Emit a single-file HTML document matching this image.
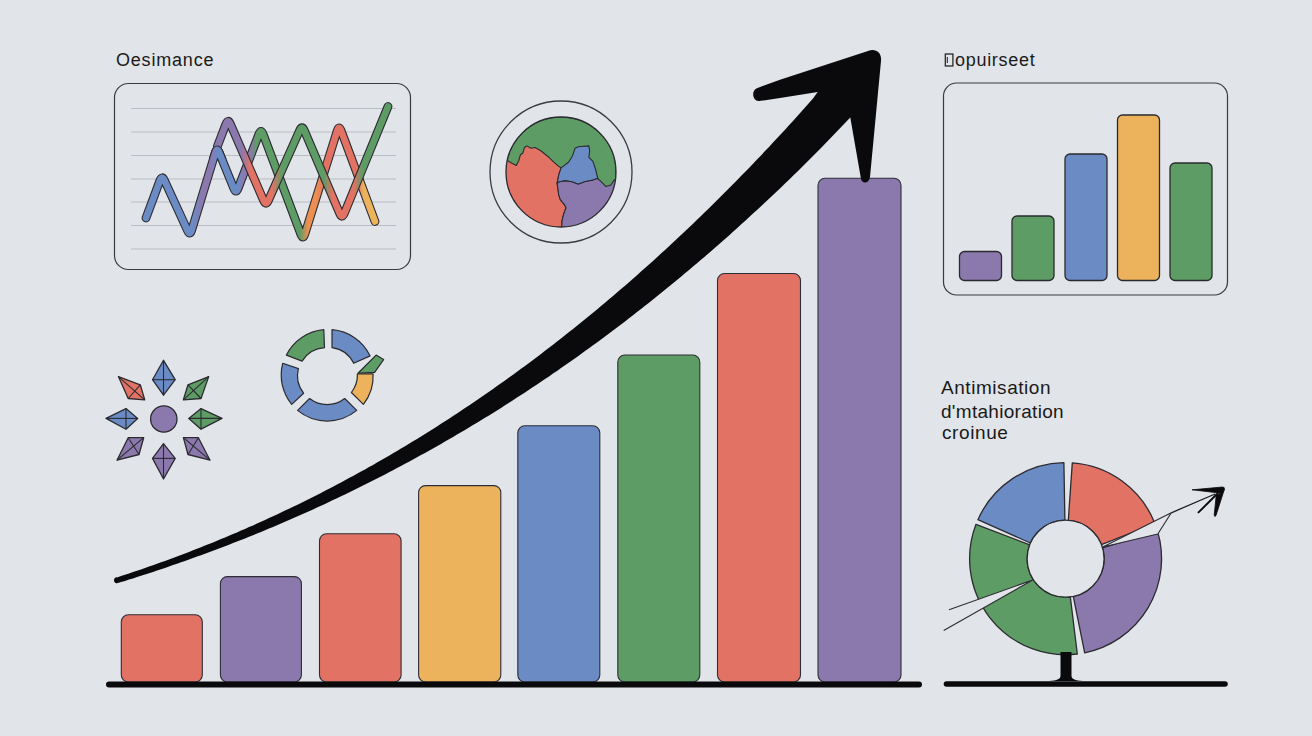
<!DOCTYPE html>
<html><head><meta charset="utf-8">
<style>
html,body{margin:0;padding:0;width:1312px;height:736px;overflow:hidden;background:#e1e4e8;}
svg{display:block;position:absolute;left:0;top:0;}
text{font-family:"Liberation Sans",sans-serif;fill:#1a1a1a;}
</style></head>
<body>
<svg width="1312" height="736" viewBox="0 0 1312 736">
<rect x="0" y="0" width="1312" height="736" fill="#e1e4e8"/>


<!-- ===== line chart panel ===== -->
<text x="116" y="65.5" font-size="18" letter-spacing="0.8">Oesimance</text>
<rect x="114.5" y="83.5" width="296" height="186" rx="14" fill="none" stroke="#3a3a40" stroke-width="1.2"/>
<g stroke="#b9bdc3" stroke-width="1.1">
<line x1="131" y1="108.5" x2="396" y2="108.5"/>
<line x1="131" y1="132" x2="396" y2="132"/>
<line x1="131" y1="155.5" x2="396" y2="155.5"/>
<line x1="131" y1="179" x2="396" y2="179"/>
<line x1="131" y1="202" x2="396" y2="202"/>
<line x1="131" y1="225.5" x2="396" y2="225.5"/>
<line x1="131" y1="249" x2="396" y2="249"/>
</g>
<defs><linearGradient id="gB" gradientUnits="userSpaceOnUse" x1="146" y1="0" x2="380" y2="0"><stop offset="0.0000" stop-color="#6b8bc5"/><stop offset="0.2009" stop-color="#6b8bc5"/><stop offset="0.2393" stop-color="#8b78ad"/><stop offset="0.2735" stop-color="#8b78ad"/><stop offset="0.3077" stop-color="#6b8bc5"/><stop offset="0.3932" stop-color="#6b8bc5"/><stop offset="0.4188" stop-color="#8b78ad"/><stop offset="0.4444" stop-color="#8b78ad"/><stop offset="0.4744" stop-color="#5e9c66"/><stop offset="0.6581" stop-color="#5e9c66"/><stop offset="0.6923" stop-color="#ec8f52"/><stop offset="0.7265" stop-color="#ec8f52"/><stop offset="0.7692" stop-color="#e27264"/><stop offset="0.9017" stop-color="#e27264"/><stop offset="0.9316" stop-color="#ecb35c"/><stop offset="1.0000" stop-color="#ecb35c"/></linearGradient><linearGradient id="gA" gradientUnits="userSpaceOnUse" x1="215" y1="0" x2="390" y2="0"><stop offset="0.0000" stop-color="#8b78ad"/><stop offset="0.1543" stop-color="#8b78ad"/><stop offset="0.2000" stop-color="#e27264"/><stop offset="0.3257" stop-color="#e27264"/><stop offset="0.3829" stop-color="#5e9c66"/><stop offset="0.6229" stop-color="#5e9c66"/><stop offset="0.6686" stop-color="#e27264"/><stop offset="0.7943" stop-color="#e27264"/><stop offset="0.8400" stop-color="#5e9c66"/><stop offset="1.0000" stop-color="#5e9c66"/></linearGradient></defs>
<path d="M146.0,218.0 L159.9,180.6 Q162.0,175.0 164.5,180.5 L187.5,230.5 Q190.0,236.0 191.7,230.3 L215.3,152.7 Q217.0,147.0 219.2,152.6 L233.8,188.4 Q236.0,194.0 238.1,188.4 L258.9,134.1 Q261.0,128.5 263.1,134.1 L300.9,234.4 Q303.0,240.0 304.8,234.3 L337.2,130.7 Q339.0,125.0 341.1,130.6 L375.0,221.5" fill="none" stroke="#2b2b30" stroke-width="8.8" stroke-linejoin="round" stroke-linecap="round"/>
<path d="M146.0,218.0 L159.9,180.6 Q162.0,175.0 164.5,180.5 L187.5,230.5 Q190.0,236.0 191.7,230.3 L215.3,152.7 Q217.0,147.0 219.2,152.6 L233.8,188.4 Q236.0,194.0 238.1,188.4 L258.9,134.1 Q261.0,128.5 263.1,134.1 L300.9,234.4 Q303.0,240.0 304.8,234.3 L337.2,130.7 Q339.0,125.0 341.1,130.6 L375.0,221.5" fill="none" stroke="url(#gB)" stroke-width="6.6" stroke-linejoin="round" stroke-linecap="round"/>
<path d="M217.5,146.0 L225.9,124.1 Q228.0,118.5 230.4,124.0 L263.6,200.5 Q266.0,206.0 268.4,200.5 L299.6,130.5 Q302.0,125.0 304.3,130.5 L339.7,213.5 Q342.0,219.0 344.3,213.4 L388.0,106.5" fill="none" stroke="#2b2b30" stroke-width="8.8" stroke-linejoin="round" stroke-linecap="round"/>
<path d="M217.5,146.0 L225.9,124.1 Q228.0,118.5 230.4,124.0 L263.6,200.5 Q266.0,206.0 268.4,200.5 L299.6,130.5 Q302.0,125.0 304.3,130.5 L339.7,213.5 Q342.0,219.0 344.3,213.4 L388.0,106.5" fill="none" stroke="url(#gA)" stroke-width="6.6" stroke-linejoin="round" stroke-linecap="round"/>
<clipPath id="pk2"><rect x="206" y="139" width="22" height="20"/></clipPath>
<g clip-path="url(#pk2)"><path d="M146.0,218.0 L159.9,180.6 Q162.0,175.0 164.5,180.5 L187.5,230.5 Q190.0,236.0 191.7,230.3 L215.3,152.7 Q217.0,147.0 219.2,152.6 L233.8,188.4 Q236.0,194.0 238.1,188.4 L258.9,134.1 Q261.0,128.5 263.1,134.1 L300.9,234.4 Q303.0,240.0 304.8,234.3 L337.2,130.7 Q339.0,125.0 341.1,130.6 L375.0,221.5" fill="none" stroke="#2b2b30" stroke-width="8.8" stroke-linejoin="round" stroke-linecap="round"/><path d="M146.0,218.0 L159.9,180.6 Q162.0,175.0 164.5,180.5 L187.5,230.5 Q190.0,236.0 191.7,230.3 L215.3,152.7 Q217.0,147.0 219.2,152.6 L233.8,188.4 Q236.0,194.0 238.1,188.4 L258.9,134.1 Q261.0,128.5 263.1,134.1 L300.9,234.4 Q303.0,240.0 304.8,234.3 L337.2,130.7 Q339.0,125.0 341.1,130.6 L375.0,221.5" fill="none" stroke="url(#gB)" stroke-width="6.6" stroke-linejoin="round" stroke-linecap="round"/></g>

<!-- ===== globe ===== -->
<circle cx="561" cy="172" r="71" fill="none" stroke="#3c3c40" stroke-width="1.3"/>
<defs><clipPath id="gclip"><circle cx="561" cy="172" r="55"/></clipPath></defs>
<g clip-path="url(#gclip)" stroke="#2b2b30" stroke-width="1.1" stroke-linejoin="round">
<circle cx="561" cy="172" r="55" fill="#5e9c66"/>
<polygon fill="#e27264" points="480.0,160.0 507.3,160.5 511.4,163.0 516.3,165.4 518.8,160.5 520.4,154.8 522.8,153.2 524.5,147.5 526.9,145.9 531.0,148.3 535.1,147.5 540.8,150.8 548.9,157.3 553.8,162.2 558.7,166.3 561.1,167.9 558.7,175.2 557.1,183.4 557.9,188.3 558.7,194.8 560.3,199.7 564.4,204.6 566.0,207.8 563.6,214.4 562.0,220.9 561.6,230.7 480.0,240.0"/>
<polygon fill="#6b8bc5" points="561.1,167.9 568.5,162.2 572.6,155.7 575.0,148.3 578.3,146.7 588.9,145.9 589.7,150.8 588.9,157.3 592.9,161.4 595.4,168.7 597.8,178.5 592.9,180.1 584.8,181.7 578.3,184.2 571.7,181.7 565.2,180.9 559.5,181.7 557.1,183.4 558.7,175.2 561.1,167.9"/>
<polygon fill="#8b78ad" points="557.1,183.4 559.5,181.7 565.2,180.9 571.7,181.7 578.3,184.2 584.8,181.7 592.9,180.1 597.8,178.5 597.8,178.5 601.1,181.7 606.0,186.6 610.9,185.0 614.1,180.1 619.0,178.5 640.0,175.0 640.0,240.0 560.0,240.0 561.6,230.7 562.0,220.9 563.6,214.4 566.0,207.8 564.4,204.6 560.3,199.7 558.7,194.8 557.9,188.3 557.1,183.4"/>
</g>
<circle cx="561" cy="172" r="55" fill="none" stroke="#2b2b30" stroke-width="1.3"/>

<!-- ===== right bar panel ===== -->
<rect x="945.3" y="54" width="7.6" height="12" fill="none" stroke="#1a1a1a" stroke-width="1.2"/><line x1="947.3" y1="57" x2="947.3" y2="63" stroke="#1a1a1a" stroke-width="1"/><text x="955" y="65.5" font-size="18" letter-spacing="0.7">opuirseet</text>
<rect x="943.5" y="83" width="284" height="212" rx="13" fill="none" stroke="#3a3a40" stroke-width="1.2"/>
<g stroke="#2a2a2e" stroke-width="1.3">
<rect x="959.5" y="251.5" width="42" height="29" rx="5" fill="#8b78ad"/>
<rect x="1012" y="216" width="42" height="64.5" rx="5" fill="#5e9c66"/>
<rect x="1065" y="154" width="42" height="126.5" rx="5" fill="#6b8bc5"/>
<rect x="1117.5" y="115" width="42" height="165.5" rx="5" fill="#ecb35c"/>
<rect x="1170" y="163" width="42" height="117.5" rx="5" fill="#5e9c66"/>
</g>

<!-- ===== star of diamonds ===== -->
<polygon points="163.5,360.3 175.2,379.7 163.5,395.2 152.5,379.7" fill="#6b8bc5" stroke="#2b2b30" stroke-width="1.3" stroke-linejoin="round"/><line x1="163.5" y1="360.3" x2="163.5" y2="395.2" stroke="#2b2b30" stroke-width="1.1"/><line x1="175.2" y1="379.7" x2="152.5" y2="379.7" stroke="#2b2b30" stroke-width="1.1"/>
<polygon points="106.0,418.4 126.0,408.6 137.7,418.4 126.0,429.2" fill="#6b8bc5" stroke="#2b2b30" stroke-width="1.3" stroke-linejoin="round"/><line x1="106.0" y1="418.4" x2="137.7" y2="418.4" stroke="#2b2b30" stroke-width="1.1"/><line x1="126.0" y1="408.6" x2="126.0" y2="429.2" stroke="#2b2b30" stroke-width="1.1"/>
<polygon points="188.8,418.4 201.0,408.6 222.0,418.4 201.0,429.2" fill="#5e9c66" stroke="#2b2b30" stroke-width="1.3" stroke-linejoin="round"/><line x1="188.8" y1="418.4" x2="222.0" y2="418.4" stroke="#2b2b30" stroke-width="1.1"/><line x1="201.0" y1="408.6" x2="201.0" y2="429.2" stroke="#2b2b30" stroke-width="1.1"/>
<polygon points="163.5,443.7 175.2,458.4 163.5,479.0 152.5,458.4" fill="#8b78ad" stroke="#2b2b30" stroke-width="1.3" stroke-linejoin="round"/><line x1="163.5" y1="443.7" x2="163.5" y2="479.0" stroke="#2b2b30" stroke-width="1.1"/><line x1="175.2" y1="458.4" x2="152.5" y2="458.4" stroke="#2b2b30" stroke-width="1.1"/>
<polygon points="118.4,376.6 140.3,384.8 144.7,399.8 128.2,398.5" fill="#e27264" stroke="#2b2b30" stroke-width="1.3" stroke-linejoin="round"/><line x1="118.4" y1="376.6" x2="144.7" y2="399.8" stroke="#2b2b30" stroke-width="1.1"/><line x1="140.3" y1="384.8" x2="128.2" y2="398.5" stroke="#2b2b30" stroke-width="1.1"/>
<polygon points="208.7,376.6 201.0,398.5 183.4,399.8 188.0,384.8" fill="#5e9c66" stroke="#2b2b30" stroke-width="1.3" stroke-linejoin="round"/><line x1="208.7" y1="376.6" x2="183.4" y2="399.8" stroke="#2b2b30" stroke-width="1.1"/><line x1="201.0" y1="398.5" x2="188.0" y2="384.8" stroke="#2b2b30" stroke-width="1.1"/>
<polygon points="117.0,460.2 128.2,437.7 143.7,437.7 139.0,454.5" fill="#8b78ad" stroke="#2b2b30" stroke-width="1.3" stroke-linejoin="round"/><line x1="117.0" y1="460.2" x2="143.7" y2="437.7" stroke="#2b2b30" stroke-width="1.1"/><line x1="128.2" y1="437.7" x2="139.0" y2="454.5" stroke="#2b2b30" stroke-width="1.1"/>
<polygon points="210.0,460.2 188.0,454.5 183.4,437.7 198.4,437.7" fill="#8b78ad" stroke="#2b2b30" stroke-width="1.3" stroke-linejoin="round"/><line x1="210.0" y1="460.2" x2="183.4" y2="437.7" stroke="#2b2b30" stroke-width="1.1"/><line x1="188.0" y1="454.5" x2="198.4" y2="437.7" stroke="#2b2b30" stroke-width="1.1"/>
<circle cx="163.8" cy="419" r="13.2" fill="#8b78ad" stroke="#2b2b30" stroke-width="1.3"/>

<!-- ===== donut ===== -->
<path d="M286.4,355.1 A46.4,46.4 0 0 1 323.8,329.7 L324.5,347.6 A28.5,28.5 0 0 0 302.1,361.1 Z" fill="#5e9c66" stroke="#2b2b30" stroke-width="1.2" stroke-linejoin="round"/>
<path d="M332.0,329.7 A46.4,46.4 0 0 1 370.1,355.9 L353.7,363.3 A28.5,28.5 0 0 0 332.0,347.6 Z" fill="#6b8bc5" stroke="#2b2b30" stroke-width="1.2" stroke-linejoin="round"/>
<path d="M373.1,373.8 A46.4,46.4 0 0 1 363.4,404.4 L351.4,392.5 A28.5,28.5 0 0 0 357.4,373.8 Z" fill="#ecb35c" stroke="#2b2b30" stroke-width="1.2" stroke-linejoin="round"/>
<path d="M356.7,410.4 A46.4,46.4 0 0 1 297.6,410.4 L309.6,398.5 A28.5,28.5 0 0 0 344.7,398.5 Z" fill="#6b8bc5" stroke="#2b2b30" stroke-width="1.2" stroke-linejoin="round"/>
<path d="M291.7,404.4 A46.4,46.4 0 0 1 282.7,363.3 L298.4,368.6 A28.5,28.5 0 0 0 303.6,393.2 Z" fill="#6b8bc5" stroke="#2b2b30" stroke-width="1.2" stroke-linejoin="round"/>
<polygon points="358.2,373.0 376.1,355.1 383.6,359.6 374.6,372.3" fill="#5e9c66" stroke="#2b2b30" stroke-width="1.2" stroke-linejoin="round"/>

<!-- ===== right text ===== -->
<text x="941" y="394" font-size="19" letter-spacing="0.55">Antimisation</text>
<text x="941" y="417.5" font-size="19" letter-spacing="0.3">d'mtahioration</text>
<text x="942" y="439" font-size="19" letter-spacing="0.6">croinue</text>

<!-- ===== pie ===== -->
<path d="M977.9,519.7 A96.0,96.0 0 0 1 1063.9,462.7 L1064.9,520.2 A38.5,38.5 0 0 0 1030.4,543.0 Z" fill="#6b8bc5" stroke="#2b2b30" stroke-width="1.3" stroke-linejoin="round"/>
<path d="M1072.3,462.9 A96.0,96.0 0 0 1 1154.9,523.5 L1101.4,544.6 A38.5,38.5 0 0 0 1068.3,520.3 Z" fill="#e27264" stroke="#2b2b30" stroke-width="1.3" stroke-linejoin="round"/>
<path d="M1157.6,531.4 A96.0,96.0 0 0 1 1084.7,652.8 L1073.3,596.4 A38.5,38.5 0 0 0 1102.5,547.8 Z" fill="#8b78ad" stroke="#2b2b30" stroke-width="1.3" stroke-linejoin="round"/>
<path d="M1077.3,654.0 A96.0,96.0 0 0 1 976.0,524.3 L1029.7,544.9 A38.5,38.5 0 0 0 1070.3,596.9 Z" fill="#5e9c66" stroke="#2b2b30" stroke-width="1.3" stroke-linejoin="round"/>
<circle cx="1065.6" cy="558.7" r="38.5" fill="#e1e4e8" stroke="#2b2b30" stroke-width="1.3"/>
<polygon points="949,609.8 1032.7,580 943.7,630.4" fill="#e1e4e8" stroke="none"/>
<polyline points="949,609.8 1032.7,580 943.7,630.4" fill="none" stroke="#2b2b30" stroke-width="1.1" stroke-linejoin="round"/>
<polygon points="1102.8,547 1171.3,512.8 1157.8,534" fill="#e1e4e8" stroke="#2b2b30" stroke-width="1.1" stroke-linejoin="round"/>
<line x1="1171.3" y1="512.8" x2="1215" y2="494" stroke="#1e1e22" stroke-width="1.3"/>
<line x1="1198.5" y1="512.4" x2="1217" y2="494" stroke="#0a0a0c" stroke-width="1.9" stroke-linecap="round"/>
<path d="M1192,489.8 L1222.5,487 Q1225,487 1224.3,489.5 L1221.5,494 L1215,492.5 Z" fill="#0a0a0c" stroke="#0a0a0c" stroke-width="0.8" stroke-linejoin="round"/>
<path d="M1224.3,489.5 L1216,515.5 Q1214.5,517.5 1214.2,515 L1216.3,494.5 L1221.5,494 Z" fill="#0a0a0c" stroke="#0a0a0c" stroke-width="0.8" stroke-linejoin="round"/>
<path d="M1060.5,652 L1060.5,676 C1060.5,680 1054,680.8 1046,681 L1086,681 C1078,680.8 1071.5,680 1071.5,676 L1071.5,652 Z" fill="#0a0a0c"/>
<line x1="946.5" y1="684" x2="1225" y2="684" stroke="#0a0a0c" stroke-width="5.6" stroke-linecap="round"/>

<!-- ===== main bars ===== -->
<g stroke="#2e2e38" stroke-width="1.1">
<rect x="121.3" y="614.8" width="81" height="67.2" rx="7" fill="#e27264"/>
<rect x="220.4" y="576.6" width="81" height="105.4" rx="7" fill="#8b78ad"/>
<rect x="319.5" y="533.8" width="81.6" height="148.2" rx="7" fill="#e27264"/>
<rect x="418.6" y="485.6" width="82.2" height="196.4" rx="7" fill="#ecb35c"/>
<rect x="517.8" y="425.8" width="82" height="256.2" rx="7" fill="#6b8bc5"/>
<rect x="617.8" y="355" width="82" height="327" rx="7" fill="#5e9c66"/>
<rect x="717.5" y="273.5" width="83" height="408.5" rx="7" fill="#e27264"/>
<rect x="818" y="178.3" width="83" height="503.7" rx="7" fill="#8b78ad"/>
</g>
<line x1="109" y1="684.5" x2="919" y2="684.5" stroke="#0a0a0c" stroke-width="6" stroke-linecap="round"/>

<!-- ===== big arrow ===== -->
<path fill="#0a0a0c" d="M117,577.4 L121.0,576.1 L125.0,574.8 L129.0,573.4 L133.0,572.1 L137.0,570.7 L141.0,569.4 L145.0,568.0 L149.0,566.6 L153.0,565.2 L157.0,563.8 L161.0,562.3 L165.0,560.9 L169.0,559.4 L173.0,557.9 L177.0,556.5 L181.0,554.9 L185.0,553.4 L189.0,551.9 L193.0,550.3 L197.0,548.8 L201.0,547.2 L205.0,545.6 L209.0,544.0 L213.0,542.4 L217.0,540.8 L221.0,539.1 L225.0,537.4 L229.0,535.8 L233.0,534.1 L237.0,532.4 L241.0,530.6 L245.0,528.9 L249.0,527.1 L253.0,525.4 L257.0,523.6 L261.0,521.8 L265.0,520.0 L269.0,518.1 L273.0,516.3 L277.0,514.4 L281.0,512.5 L285.0,510.6 L289.0,508.7 L293.0,506.8 L297.0,504.9 L301.0,502.9 L305.0,500.9 L309.0,498.9 L313.0,496.9 L317.0,494.9 L321.0,492.9 L325.0,490.8 L329.0,488.7 L333.0,486.7 L337.0,484.6 L341.0,482.4 L345.0,480.3 L349.0,478.1 L353.0,476.0 L357.0,473.8 L361.0,471.6 L365.0,469.4 L369.0,467.1 L373.0,464.9 L377.0,462.6 L381.0,460.3 L385.0,458.0 L389.0,455.7 L393.0,453.3 L397.0,451.0 L401.0,448.6 L405.0,446.2 L409.0,443.8 L413.0,441.3 L417.0,438.9 L421.0,436.4 L425.0,433.9 L429.0,431.4 L433.0,428.9 L437.0,426.4 L441.0,423.8 L445.0,421.3 L449.0,418.7 L453.0,416.1 L457.0,413.4 L461.0,410.8 L465.0,408.1 L469.0,405.4 L473.0,402.7 L477.0,400.0 L481.0,397.3 L485.0,394.5 L489.0,391.7 L493.0,388.9 L497.0,386.1 L501.0,383.3 L505.0,380.4 L509.0,377.6 L513.0,374.7 L517.0,371.8 L521.0,368.8 L525.0,365.9 L529.0,362.9 L533.0,359.9 L537.0,356.9 L541.0,353.9 L545.0,350.8 L549.0,347.8 L553.0,344.7 L557.0,341.6 L561.0,338.4 L565.0,335.3 L569.0,332.1 L573.0,328.9 L577.0,325.7 L581.0,322.5 L585.0,319.3 L589.0,316.0 L593.0,312.7 L597.0,309.4 L601.0,306.1 L605.0,302.7 L609.0,299.3 L613.0,296.0 L617.0,292.5 L621.0,289.1 L625.0,285.7 L629.0,282.2 L633.0,278.7 L637.0,275.2 L641.0,271.6 L645.0,268.1 L649.0,264.5 L653.0,260.9 L657.0,257.3 L661.0,253.6 L665.0,250.0 L669.0,246.3 L673.0,242.6 L677.0,238.8 L681.0,235.1 L685.0,231.3 L689.0,227.5 L693.0,223.7 L697.0,219.8 L701.0,216.0 L705.0,212.1 L709.0,208.2 L713.0,204.3 L717.0,200.3 L721.0,196.3 L725.0,192.3 L729.0,188.3 L733.0,184.3 L737.0,180.2 L741.0,176.1 L745.0,172.0 L749.0,167.9 L753.0,163.7 L757.0,159.6 L761.0,155.4 L765.0,151.1 L769.0,146.9 L773.0,142.6 L777.0,138.3 L781.0,134.0 L785.0,129.7 L789.0,125.3 L793.0,120.9 L797.0,116.5 L801.0,112.1 L805.0,107.6 L809.0,103.1 L813.0,98.6 L817.7,92 L780,98 L759.5,101 C752.5,102 750.5,90 757.5,88 L780,79.7 L868,51 C876,48 882,53 881,61 L870,177 C869,184 862,184 861,179 L850.3,117.4 L821.0,148.1 L817.0,152.1 L813.0,156.1 L809.0,160.1 L805.0,164.0 L801.0,168.0 L797.0,171.9 L793.0,175.8 L789.0,179.7 L785.0,183.5 L781.0,187.4 L777.0,191.2 L773.0,195.0 L769.0,198.8 L765.0,202.5 L761.0,206.2 L757.0,209.9 L753.0,213.6 L749.0,217.3 L745.0,221.0 L741.0,224.6 L737.0,228.2 L733.0,231.8 L729.0,235.4 L725.0,238.9 L721.0,242.4 L717.0,246.0 L713.0,249.5 L709.0,252.9 L705.0,256.4 L701.0,259.8 L697.0,263.2 L693.0,266.6 L689.0,270.0 L685.0,273.3 L681.0,276.7 L677.0,280.0 L673.0,283.3 L669.0,286.6 L665.0,289.8 L661.0,293.1 L657.0,296.3 L653.0,299.5 L649.0,302.7 L645.0,305.8 L641.0,309.0 L637.0,312.1 L633.0,315.2 L629.0,318.3 L625.0,321.4 L621.0,324.4 L617.0,327.5 L613.0,330.5 L609.0,333.5 L605.0,336.5 L601.0,339.4 L597.0,342.4 L593.0,345.3 L589.0,348.2 L585.0,351.1 L581.0,354.0 L577.0,356.9 L573.0,359.7 L569.0,362.5 L565.0,365.3 L561.0,368.1 L557.0,370.9 L553.0,373.6 L549.0,376.4 L545.0,379.1 L541.0,381.8 L537.0,384.5 L533.0,387.1 L529.0,389.8 L525.0,392.4 L521.0,395.0 L517.0,397.6 L513.0,400.2 L509.0,402.8 L505.0,405.3 L501.0,407.9 L497.0,410.4 L493.0,412.9 L489.0,415.4 L485.0,417.8 L481.0,420.3 L477.0,422.7 L473.0,425.1 L469.0,427.5 L465.0,429.9 L461.0,432.3 L457.0,434.6 L453.0,437.0 L449.0,439.3 L445.0,441.6 L441.0,443.9 L437.0,446.2 L433.0,448.4 L429.0,450.7 L425.0,452.9 L421.0,455.1 L417.0,457.3 L413.0,459.5 L409.0,461.7 L405.0,463.8 L401.0,466.0 L397.0,468.1 L393.0,470.2 L389.0,472.3 L385.0,474.4 L381.0,476.5 L377.0,478.5 L373.0,480.5 L369.0,482.6 L365.0,484.6 L361.0,486.6 L357.0,488.5 L353.0,490.5 L349.0,492.5 L345.0,494.4 L341.0,496.3 L337.0,498.2 L333.0,500.1 L329.0,502.0 L325.0,503.9 L321.0,505.7 L317.0,507.6 L313.0,509.4 L309.0,511.2 L305.0,513.0 L301.0,514.8 L297.0,516.5 L293.0,518.3 L289.0,520.0 L285.0,521.8 L281.0,523.5 L277.0,525.2 L273.0,526.9 L269.0,528.6 L265.0,530.2 L261.0,531.9 L257.0,533.5 L253.0,535.2 L249.0,536.8 L245.0,538.4 L241.0,540.0 L237.0,541.5 L233.0,543.1 L229.0,544.7 L225.0,546.2 L221.0,547.7 L217.0,549.2 L213.0,550.7 L209.0,552.2 L205.0,553.7 L201.0,555.2 L197.0,556.6 L193.0,558.1 L189.0,559.5 L185.0,560.9 L181.0,562.3 L177.0,563.7 L173.0,565.1 L169.0,566.5 L165.0,567.9 L161.0,569.2 L157.0,570.5 L153.0,571.9 L149.0,573.2 L145.0,574.5 L141.0,575.8 L137.0,577.1 L133.0,578.4 L129.0,579.6 L125.0,580.9 L121.0,582.1 L117.0,583.3 C113,583.8 113,576.9 117,577.4 Z"/>
</svg>
</body></html>
